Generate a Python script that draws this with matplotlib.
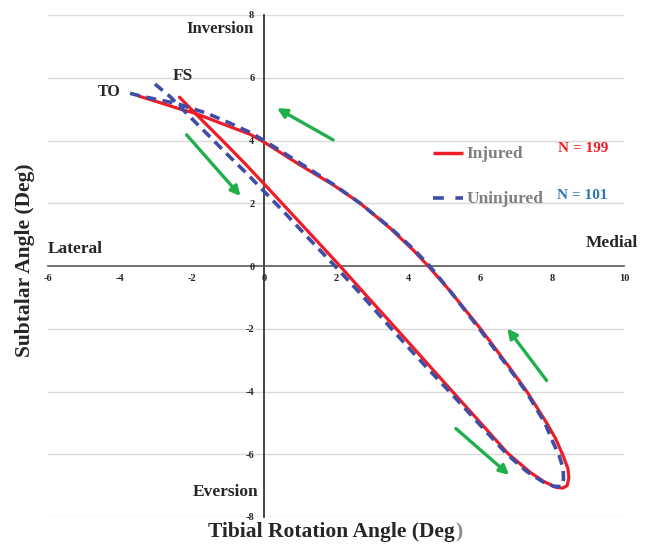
import matplotlib
matplotlib.use("Agg")
import matplotlib.pyplot as plt

# Injured (red), foot strike -> bottom -> toe off
inj_x = [-2.35, -1.8, -1.13, -0.5, 0.0, 0.5, 1.0, 1.5, 2.11, 2.85, 3.69, 4.4, 5.21,
         6.0, 6.78, 7.11, 7.4, 7.76, 8.1, 8.3, 8.42, 8.47, 8.44, 8.31, 8.1, 7.85, 7.32,
         6.83, 6.0, 5.17, 4.56, 4.15, 3.5, 2.67, 1.93, 1.0, 0.0, -0.39, -1.13, -1.92,
         -2.38, -2.98, -3.49]
inj_y = [5.38, 4.74, 3.97, 3.23, 2.62, 2.0, 1.38, 0.76, 0.0, -0.95, -2.02, -2.93, -3.97,
         -4.98, -5.98, -6.3, -6.58, -6.86, -7.05, -7.08, -7.0, -6.75, -6.45, -6.05, -5.5,
         -5.0, -4.03, -3.25, -1.98, -0.8, 0.0, 0.5, 1.21, 2.0, 2.58, 3.22, 3.95, 4.2, 4.52,
         4.87, 5.02, 5.24, 5.42]

# Uninjured (blue dashed)
uninj_x = [-3.03, -2.61, -2.06, -1.59, -1.04, -0.48, 0.0, 0.54, 1.2, 1.97, 2.67, 3.41,
           4.24, 5.15, 5.95, 6.75, 7.3, 7.75, 8.05, 8.25, 8.32, 8.31, 8.2, 8.04, 7.8,
           7.28, 6.8, 5.98, 5.17, 4.6, 4.17, 3.5, 2.67, 1.93, 1.0, 0.0, -0.39, -0.94,
           -1.59, -2.43, -2.98, -3.44, -3.77]
uninj_y = [5.8, 5.4, 4.76, 4.22, 3.58, 2.95, 2.38, 1.74, 0.93, 0.0, -0.87, -1.83,
           -2.89, -4.0, -5.0, -6.0, -6.55, -6.88, -7.02, -7.03, -6.8, -6.45, -6.05, -5.65,
           -5.0, -4.0, -3.25, -2.0, -0.8, 0.0, 0.52, 1.23, 2.0, 2.6, 3.28, 4.0, 4.26, 4.55,
           4.87, 5.18, 5.31, 5.42, 5.52]

# direction arrows: (tail, head)
arrows = [((1.92, 4.02), (0.36, 5.03)),
          ((-2.15, 4.18), (-0.65, 2.23)),
          ((7.85, -3.65), (6.76, -1.99)),
          ((5.33, -5.18), (6.81, -6.66))]

x_ticks = [-6, -4, -2, 0, 2, 4, 6, 8, 10]
y_ticks = [-8, -6, -4, -2, 0, 2, 4, 6, 8]

RED = "#ee1c25"
BLUE = "#3f4da6"
GREEN = "#1fb04b"
GRAY = "#7f7f7f"
DARK = "#262626"

plt.rcParams["font.family"] = ["Liberation Serif", "DejaVu Serif"]
plt.rcParams["font.weight"] = "bold"

fig = plt.figure(figsize=(6.51, 5.44), dpi=100)
ax = fig.add_axes([48 / 651, 27 / 544, 576 / 651, 502 / 544])
ax.set_xlim(-6, 10)
ax.set_ylim(-8, 8)

for s in ["top", "right"]:
    ax.spines[s].set_visible(False)
ax.spines["left"].set_position("zero")
ax.spines["bottom"].set_position("zero")
ax.spines["left"].set_color(DARK)
ax.spines["left"].set_linewidth(1.2)
ax.spines["bottom"].set_color("#595959")
ax.spines["bottom"].set_linewidth(1.2)
ax.spines["left"].set_zorder(1)
ax.spines["bottom"].set_zorder(1)

ax.set_xticks(x_ticks)
ax.set_yticks(y_ticks)
ax.set_xticklabels([str(t) for t in x_ticks])
ax.set_yticklabels([str(t) for t in y_ticks])
ax.tick_params(axis="x", length=0, pad=6, labelsize=7.5)
ax.tick_params(axis="y", length=0, pad=7, labelsize=7.5)
for lab in ax.get_xticklabels() + ax.get_yticklabels():
    lab.set_fontweight("bold")
    lab.set_color(DARK)

for yv in y_ticks:
    if yv != 0:
        ax.axhline(yv, color="#d9d9d9", lw=1.0, zorder=0)

ax.plot(inj_x, inj_y, color=RED, lw=2.3, zorder=3,
        solid_capstyle="round", solid_joinstyle="round")
ax.plot(uninj_x, uninj_y, color=BLUE, lw=2.6, ls=(0, (2.8, 1.8)), zorder=4,
        dash_joinstyle="round")

for tail, head in arrows:
    ax.annotate("", xy=head, xytext=tail,
                arrowprops=dict(arrowstyle="-|>", color=GREEN, lw=2.4,
                                mutation_scale=14, shrinkA=0, shrinkB=0),
                zorder=5)

# legend, drawn by hand
ax.plot([4.69, 5.53], [3.6, 3.6], color=RED, lw=2.5, solid_capstyle="butt")
ax.plot([4.69, 5.53], [2.17, 2.17], color=BLUE, lw=2.6, ls=(0, (3.0, 3.2)))
ax.text(5.62, 3.57, "Injured", color=GRAY, fontsize=12.5, fontweight="bold",
        va="center", ha="left")
ax.text(5.62, 2.12, "Uninjured", color=GRAY, fontsize=12.5, fontweight="bold",
        va="center", ha="left")
ax.text(8.17, 3.76, "N = 199", color=RED, fontsize=11, fontweight="bold",
        va="center", ha="left")
ax.text(8.14, 2.26, "N = 101", color="#2e75b6", fontsize=11, fontweight="bold",
        va="center", ha="left")

# region labels
ax.text(-0.3, 7.56, "Inversion", fontsize=12, fontweight="bold", ha="right", va="center",
        color=DARK)
ax.text(-0.17, -7.19, "Eversion", fontsize=12.5, fontweight="bold", ha="right", va="center",
        color=DARK)
ax.text(-6.0, 0.54, "Lateral", fontsize=12.5, fontweight="bold", ha="left", va="center",
        color=DARK)
ax.text(10.39, 0.73, "Medial", fontsize=12.5, fontweight="bold", ha="right", va="center",
        color=DARK, clip_on=False)
ax.text(-2.26, 6.06, "FS", fontsize=12.5, fontweight="bold", ha="center", va="center",
        color=DARK)
ax.text(-4.3, 5.55, "TO", fontsize=11.5, fontweight="bold", ha="center", va="center",
        color=DARK)

# axis titles (closing bracket is grey in the original)
fig.text(455 / 651, 1 - 532 / 544, "Tibial Rotation Angle (Deg", fontsize=15.5,
         fontweight="bold", ha="right", va="center", color=DARK)
fig.text(455 / 651, 1 - 532 / 544, ")", fontsize=15.5,
         fontweight="bold", ha="left", va="center", color="#8c8c8c")
fig.text(25 / 651, 1 - 260 / 544, "Subtalar Angle (Deg)", fontsize=15.5,
         fontweight="bold", ha="center", va="center", rotation=90, color=DARK)

fig.savefig("out.png", dpi=100)
